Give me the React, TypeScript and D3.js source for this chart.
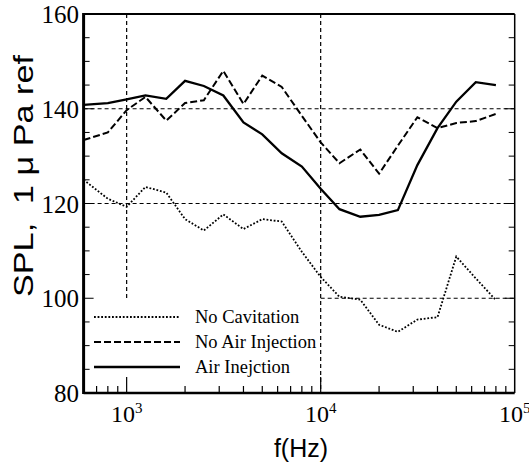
import React, { useRef, useEffect } from "react";
import * as d3 from "d3";

// 1/3-octave band frequencies (first point sits on the left edge)
const freqs = [600, 800, 1000, 1250, 1600, 2000, 2500, 3150, 4000, 5000, 6300, 8000, 10000, 12500, 16000, 20000, 25000, 31500, 40000, 50000, 63000, 80000];
const noCavitation = [125.0, 121.0, 119.3, 123.5, 122.3, 116.7, 114.3, 117.7, 114.6, 116.7, 116.2, 109.8, 104.5, 100.3, 99.7, 94.4, 92.9, 95.5, 96.0, 108.8, 104.2, 99.6];
const noAirInjection = [133.4, 135.0, 139.7, 142.5, 137.5, 141.2, 141.8, 148.0, 141.0, 147.0, 144.6, 138.5, 132.9, 128.5, 131.4, 126.3, 132.2, 138.2, 135.9, 137.0, 137.4, 138.9];
const airInjection = [140.8, 141.2, 142.0, 142.8, 142.1, 145.9, 144.8, 142.8, 137.1, 134.6, 130.6, 127.8, 123.1, 118.8, 117.2, 117.6, 118.6, 128.1, 135.9, 141.5, 145.6, 145.0];

const yTicks = [80, 100, 120, 140, 160];
const xDecades = [3, 4, 5];
const seriesNames = ["No Cavitation", "No Air Injection", "Air Inejction"];

const SERIF = "'Liberation Serif', 'Times New Roman', serif";
const SANS = "'Liberation Sans', Arial, sans-serif";

const App = () => {
  const svgRef = useRef(null);

  useEffect(() => {
    const svg = d3.select(svgRef.current);
    svg.selectAll("*").remove();

    const x = d3.scaleLog().domain([600, 1e5]).range([83.6, 514.7]);
    const y = d3.scaleLinear().domain([80, 160]).range([393, 14]);
    const [x0, x1] = x.range();
    const [yb, yt] = y.range();

    // grid (dashed); lower-left part left open for the legend
    const grid = svg.append("g").attr("stroke", "#000").attr("stroke-width", 1.2).attr("stroke-dasharray", "4,3");
    [140, 120].forEach((v) =>
      grid.append("line").attr("x1", x0).attr("x2", x1).attr("y1", y(v)).attr("y2", y(v))
    );
    grid.append("line").attr("x1", x(1e4)).attr("x2", x1).attr("y1", y(100)).attr("y2", y(100));
    grid.append("line").attr("x1", x(1e3)).attr("x2", x(1e3)).attr("y1", yt).attr("y2", y(100));
    grid.append("line").attr("x1", x(1e4)).attr("x2", x(1e4)).attr("y1", yt).attr("y2", yb);

    // frame
    const frame = svg.append("g").attr("stroke", "#000").attr("fill", "none");
    frame.append("line").attr("x1", x0).attr("x2", x0).attr("y1", yt - 1).attr("y2", yb + 1).attr("stroke-width", 3);
    frame.append("line").attr("x1", x0).attr("x2", x1).attr("y1", yb).attr("y2", yb).attr("stroke-width", 2.5);
    frame.append("line").attr("x1", x0).attr("x2", x1).attr("y1", yt).attr("y2", yt).attr("stroke-width", 2);
    frame.append("line").attr("x1", x1).attr("x2", x1).attr("y1", yt).attr("y2", yb).attr("stroke-width", 1.5);

    // y ticks, both sides, inward
    const yMinor = d3.range(85, 160, 5);
    yMinor.forEach((v) => {
      const len = v % 20 === 0 ? 10 : 6;
      frame.append("line").attr("x1", x0).attr("x2", x0 + len).attr("y1", y(v)).attr("y2", y(v)).attr("stroke-width", 1);
      frame.append("line").attr("x1", x1).attr("x2", x1 - len).attr("y1", y(v)).attr("y2", y(v)).attr("stroke-width", 1);
    });

    // x ticks, bottom, inward
    const xMinor = [];
    [2, 3, 4].forEach((e) => d3.range(1, 10).forEach((m) => xMinor.push(m * Math.pow(10, e))));
    xMinor
      .filter((f) => f >= 600 && f < 1e5)
      .forEach((f) => {
        const major = Math.log10(f) % 1 === 0;
        frame.append("line").attr("x1", x(f)).attr("x2", x(f)).attr("y1", yb).attr("y2", yb - (major ? 16 : 7)).attr("stroke-width", 1.2);
      });

    // y tick labels
    svg.append("g")
      .selectAll("text")
      .data(yTicks)
      .enter()
      .append("text")
      .attr("x", 79)
      .attr("y", (d) => y(d))
      .attr("dy", "0.36em")
      .attr("text-anchor", "end")
      .style("font-family", SERIF)
      .style("font-size", "25px")
      .text((d) => d);

    // x tick labels (10^n)
    const xl = svg.append("g").style("font-family", SERIF);
    xDecades.forEach((e) => {
      const t = xl.append("text").attr("x", x(Math.pow(10, e))).attr("y", 422).attr("text-anchor", "middle");
      t.append("tspan").style("font-size", "24px").text("10");
      t.append("tspan").style("font-size", "15px").attr("dy", -9).text(e);
    });

    // series
    const line = (vals) =>
      d3.line().x((d, i) => x(freqs[i])).y((d) => y(d))(vals);
    const styles = [
      { data: noCavitation, dash: "1.8,1.8", w: 1.8 },
      { data: noAirInjection, dash: "7,3", w: 2 },
      { data: airInjection, dash: null, w: 2.3 },
    ];
    styles.forEach((s) => {
      svg.append("path")
        .attr("d", line(s.data))
        .attr("fill", "none")
        .attr("stroke", "#000")
        .attr("stroke-width", s.w)
        .attr("stroke-dasharray", s.dash);
    });

    // legend
    const lg = svg.append("g");
    styles.forEach((s, i) => {
      const ly = 317 + i * 25;
      lg.append("line")
        .attr("x1", 94).attr("x2", 180).attr("y1", ly).attr("y2", ly)
        .attr("stroke", "#000").attr("stroke-width", s.w).attr("stroke-dasharray", s.dash);
      lg.append("text")
        .attr("x", 195).attr("y", ly + 5.5)
        .style("font-family", SERIF).style("font-size", "18.5px")
        .text(seriesNames[i]);
    });

    // axis titles
    svg.append("text")
      .attr("x", 301).attr("y", 457)
      .attr("text-anchor", "middle")
      .style("font-family", SANS).style("font-size", "25px")
      .text("f(Hz)");
    svg.append("text")
      .attr("transform", "translate(33,176) rotate(-90)")
      .attr("text-anchor", "middle")
      .attr("textLength", 242)
      .attr("lengthAdjust", "spacingAndGlyphs")
      .style("font-family", SANS).style("font-size", "27px")
      .style("white-space", "pre")
      .text("SPL,  1 \u03bc Pa ref");
  }, []);

  return (
    <svg ref={svgRef} width={529} height={468} style={{ position: "absolute", left: 0, top: 0, background: "#fff" }}></svg>
  );
};

export default App;
